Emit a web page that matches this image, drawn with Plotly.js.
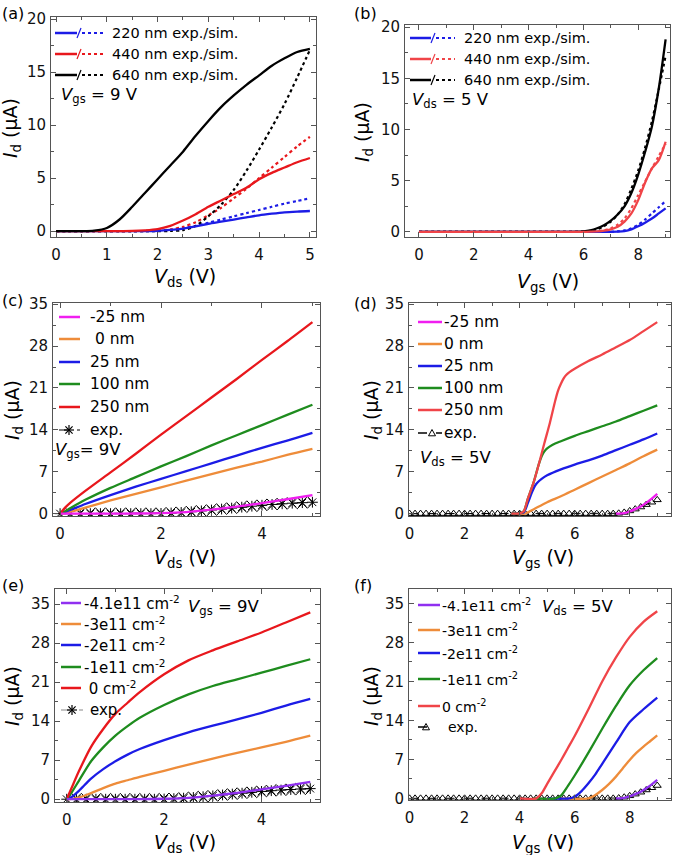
<!DOCTYPE html>
<html>
<head>
<meta charset="utf-8">
<script src="https://cdn.plot.ly/plotly-3.0.1.min.js"></script>
<style>html,body{margin:0;padding:0;background:#fff;}#chart{width:673px;height:855px;}</style>
</head>
<body>
<div id="chart"></div>
<script>
// ---------------- DATA ----------------
// Panel (a): Id vs Vds, Vgs = 9 V
const a_x = [0, 0.25, 0.5, 0.75, 1.0, 1.25, 1.5, 1.75, 2.0, 2.25, 2.5, 2.75, 3.0, 3.25, 3.5, 3.75, 4.0, 4.25, 4.5, 4.75, 5.0];
const a220_exp = [0, 0, 0, 0, 0, 0, 0, 0, 0.03, 0.12, 0.25, 0.45, 0.7, 0.9, 1.1, 1.3, 1.5, 1.65, 1.78, 1.85, 1.9];
const a440_exp = [0, 0, 0, 0, 0, 0, 0.02, 0.08, 0.2, 0.5, 1.0, 1.6, 2.3, 2.9, 3.5, 4.1, 4.9, 5.5, 6.0, 6.5, 6.9];
const a640_exp = [0, 0, 0, 0.05, 0.3, 1.1, 2.3, 3.6, 4.9, 6.2, 7.5, 9.0, 10.4, 11.7, 12.8, 13.8, 14.7, 15.6, 16.3, 16.9, 17.2];
const a220_sim = [0, 0, 0, 0, 0, 0, 0, 0, 0.03, 0.12, 0.28, 0.5, 0.8, 1.1, 1.4, 1.7, 2.0, 2.3, 2.6, 2.85, 3.1];
const a440_sim = [0, 0, 0, 0, 0, 0, 0, 0.02, 0.05, 0.15, 0.4, 0.85, 1.5, 2.2, 3.1, 4.0, 5.0, 6.0, 7.0, 8.0, 8.9];
const a640_sim = [0, 0, 0, 0, 0, 0, 0, 0, 0, 0.02, 0.1, 0.5, 1.4, 2.5, 3.9, 5.7, 7.7, 9.8, 12.0, 14.5, 17.1];

// Panel (b): Id vs Vgs, Vds = 5 V
const b_x = [0, 1, 2, 3, 4, 5, 6, 6.25, 6.5, 6.75, 7, 7.25, 7.5, 7.75, 8, 8.25, 8.5, 8.75, 9];
const b220_exp = [0, 0, 0, 0, 0, 0, 0, 0, 0, 0, 0, 0.02, 0.08, 0.25, 0.55, 0.9, 1.3, 1.8, 2.3];
const b440_exp = [0, 0, 0, 0, 0, 0, 0, 0.02, 0.05, 0.12, 0.25, 0.5, 1.0, 1.8, 3.1, 4.8, 6.2, 7.0, 8.8];
const b640_exp = [0, 0, 0, 0, 0, 0, 0.05, 0.15, 0.35, 0.65, 1.1, 1.7, 2.5, 3.8, 5.6, 7.8, 10.3, 14.0, 18.8];
const b220_sim = [0, 0, 0, 0, 0, 0, 0, 0, 0, 0, 0, 0.05, 0.15, 0.35, 0.7, 1.2, 1.8, 2.4, 3.0];
const b440_sim = [0, 0, 0, 0, 0, 0, 0, 0, 0.05, 0.15, 0.35, 0.7, 1.3, 2.3, 3.6, 4.9, 6.2, 7.4, 8.6];
const b640_sim = [0, 0, 0, 0, 0, 0, 0.03, 0.1, 0.25, 0.55, 1.0, 1.7, 2.7, 4.2, 6.0, 8.2, 10.8, 13.9, 17.2];

// Panel (c): Id vs Vds for gate offsets, Vgs = 9 V
const c_x = [0, 0.1, 0.2, 0.5, 1, 1.5, 2, 2.5, 3, 3.5, 4, 4.5, 5];
const c_m25 = [0, 0, 0, 0, 0, 0.02, 0.08, 0.25, 0.65, 1.15, 1.75, 2.4, 3.1];
const c_0 = [0, 0.1, 0.3, 1.0, 2.2, 3.3, 4.4, 5.5, 6.6, 7.7, 8.7, 9.8, 10.8];
const c_25 = [0, 0.3, 0.6, 1.6, 3.1, 4.5, 5.8, 7.1, 8.4, 9.7, 11.0, 12.2, 13.5];
const c_100 = [0, 0.4, 0.9, 2.3, 4.3, 6.1, 7.9, 9.6, 11.4, 13.1, 14.8, 16.5, 18.2];
const c_250 = [0, 1.0, 1.8, 3.8, 6.9, 10.0, 13.2, 16.3, 19.4, 22.5, 25.7, 28.8, 32.0];

// Experimental output curve (c, e), Vgs = 9 V
const ce_exp_x = [0, 0.1, 0.2, 0.3, 0.4, 0.5, 0.6, 0.7, 0.8, 0.9, 1.0, 1.1, 1.2, 1.3, 1.4, 1.5, 1.6, 1.7, 1.8, 1.9,
  2.0, 2.1, 2.2, 2.3, 2.4, 2.5, 2.6, 2.7, 2.8, 2.9, 3.0, 3.1, 3.2, 3.3, 3.4, 3.5, 3.6, 3.7, 3.8, 3.9,
  4.0, 4.1, 4.2, 4.3, 4.4, 4.5, 4.6, 4.7, 4.8, 4.9, 5.0];
const ce_exp_y = [0, 0, 0, 0, 0, 0, 0, 0, 0, 0, 0, 0, 0, 0, 0, 0, 0, 0, 0, 0,
  0.03, 0.06, 0.1, 0.14, 0.19, 0.25, 0.31, 0.38, 0.45, 0.52, 0.6, 0.68, 0.76, 0.84, 0.92, 1.0, 1.08, 1.16, 1.24, 1.32,
  1.4, 1.47, 1.53, 1.59, 1.64, 1.7, 1.74, 1.79, 1.83, 1.87, 1.9];

// Panel (d): Id vs Vgs for gate offsets, Vds = 5 V
const d250_x = [3.7, 4.0, 4.15, 4.3, 4.5, 4.7, 4.9, 5.1, 5.3, 5.4, 5.5, 5.6, 5.7, 5.8, 6.0, 6.5, 7.0, 7.5, 8.0, 8.5, 9.0];
const d250_y = [0, 0.05, 0.4, 2.5, 5.1, 8.3, 11.8, 15.2, 19.0, 20.6, 21.7, 22.6, 23.2, 23.6, 24.2, 25.5, 26.6, 27.8, 29.0, 30.5, 32.0];
const d100_x = [3.7, 4.0, 4.15, 4.3, 4.5, 4.7, 4.8, 4.9, 5.0, 5.2, 5.5, 6.0, 6.5, 7.0, 7.5, 8.0, 8.5, 9.0];
const d100_y = [0, 0.05, 0.4, 2.5, 5.1, 8.3, 9.6, 10.4, 10.9, 11.5, 12.1, 13.0, 13.8, 14.6, 15.4, 16.3, 17.2, 18.1];
const d25_x = [3.7, 4.0, 4.15, 4.3, 4.45, 4.55, 4.65, 4.8, 5.0, 5.5, 6.0, 6.5, 7.0, 7.5, 8.0, 8.5, 9.0];
const d25_y = [0, 0.05, 0.2, 1.8, 3.6, 4.6, 5.2, 5.8, 6.4, 7.4, 8.2, 8.9, 9.7, 10.6, 11.5, 12.4, 13.4];
const d0_x = [3.7, 4.2, 4.5, 5.0, 5.5, 6.0, 6.5, 7.0, 7.5, 8.0, 8.5, 9.0];
const d0_y = [0, 0, 0.7, 1.9, 2.9, 4.0, 5.1, 6.2, 7.3, 8.4, 9.6, 10.7];
const dm25_x = [7.5, 7.8, 8.0, 8.2, 8.4, 8.6, 8.8, 9.0];
const dm25_y = [0, 0.1, 0.35, 0.75, 1.2, 1.8, 2.5, 3.3];

// Experimental transfer curve (d, f), Vds = 5 V
const df_exp_x = [0, 0.2, 0.4, 0.6, 0.8, 1.0, 1.2, 1.4, 1.6, 1.8, 2.0, 2.2, 2.4, 2.6, 2.8, 3.0, 3.2, 3.4, 3.6, 3.8,
  4.0, 4.2, 4.4, 4.6, 4.8, 5.0, 5.2, 5.4, 5.6, 5.8, 6.0, 6.2, 6.4, 6.6, 6.8, 7.0, 7.2, 7.4, 7.6, 7.8,
  8.0, 8.2, 8.4, 8.6, 8.8, 9.0];
const df_exp_y = [0, 0, 0, 0, 0, 0, 0, 0, 0, 0, 0, 0, 0, 0, 0, 0, 0, 0, 0, 0,
  0, 0, 0, 0, 0, 0, 0, 0, 0, 0, 0, 0, 0, 0, 0, 0, 0, 0, 0.05, 0.2,
  0.45, 0.75, 1.1, 1.5, 1.9, 2.3];

// Panel (e): Id vs Vds for interface charge, Vgs = 9 V
const e_x = [0, 0.1, 0.25, 0.5, 0.75, 1, 1.25, 1.5, 2, 2.5, 3, 3.5, 4, 4.5, 5];
const e_m41 = [0, 0, 0, 0, 0, 0, 0, 0, 0.08, 0.25, 0.65, 1.15, 1.75, 2.4, 3.1];
const e_m3 = [0, 0.05, 0.3, 1.1, 2.0, 2.8, 3.4, 4.0, 5.1, 6.2, 7.3, 8.3, 9.3, 10.3, 11.4];
const e_m2 = [0, 0.4, 1.5, 3.7, 5.4, 6.8, 8.0, 9.0, 10.6, 12.0, 13.2, 14.3, 15.5, 16.8, 18.0];
const e_m1 = [0, 1.2, 3.3, 6.8, 9.3, 11.4, 13.1, 14.6, 16.9, 18.8, 20.3, 21.5, 22.7, 23.9, 25.1];
const e_0 = [0, 2.0, 5.0, 9.4, 12.6, 15.3, 17.3, 19.2, 22.4, 24.9, 26.7, 28.3, 29.9, 31.7, 33.5];

// Panel (f): Id vs Vgs for interface charge, Vds = 5 V
const f0_x = [4.0, 4.6, 4.8, 5.0, 5.25, 5.5, 5.75, 6.0, 6.5, 7.0, 7.5, 8.0, 8.5, 9.0];
const f0_y = [0, 0, 0.9, 2.6, 4.7, 6.8, 9.0, 11.2, 16.0, 21.0, 25.3, 29.0, 31.7, 33.6];
const fm1_x = [4.5, 5.3, 5.5, 5.75, 6.0, 6.5, 7.0, 7.5, 8.0, 8.5, 9.0];
const fm1_y = [0, 0, 0.5, 2.2, 4.1, 8.2, 12.5, 16.6, 20.3, 23.0, 25.2];
const fm2_x = [5.0, 5.8, 6.0, 6.25, 6.5, 6.75, 7.0, 7.5, 8.0, 8.5, 9.0];
const fm2_y = [0, 0, 0.3, 1.3, 2.7, 4.3, 6.2, 10.0, 13.7, 16.0, 18.1];
const fm3_x = [5.5, 6.5, 6.75, 7.0, 7.25, 7.5, 7.75, 8.0, 8.25, 8.5, 8.75, 9.0];
const fm3_y = [0, 0, 0.6, 1.5, 2.6, 3.9, 5.4, 6.9, 8.2, 9.3, 10.3, 11.3];
const fm41_x = [7.5, 7.8, 8.0, 8.2, 8.4, 8.6, 8.8, 9.0];
const fm41_y = [0, 0.1, 0.35, 0.75, 1.2, 1.8, 2.5, 3.3];

// Labels
const wireLabels = ['220 nm exp./sim.', '440 nm exp./sim.', '640 nm exp./sim.'];
const offsetLabels = ['-25 nm', '0 nm', '25 nm', '100 nm', '250 nm', 'exp.'];
const chargeLabels = ['-4.1e11 cm<sup>-2</sup>', '-3e11 cm<sup>-2</sup>', '-2e11 cm<sup>-2</sup>', '-1e11 cm<sup>-2</sup>', '0 cm<sup>-2</sup>', 'exp.'];

// ---------------- STYLE ----------------
const W = 673, H = 855;
const F = 'DejaVu Sans';
const fx = p => p / W;
const fy = p => 1 - p / H;
const BLUE = '#1c1ce6', RED = '#e8171c', BLACK = '#000000';
const RED2 = '#f04448', GREEN = '#1e8c1e', ORANGE = '#ee8c3a', MAGENTA = '#f01ef0', PURPLE = '#9030f0';
const AX = '#555';

function axis(dom, range, dtick, minor, anchor, isX) {
  return {
    domain: dom, range: range, dtick: dtick, tick0: 0, anchor: anchor,
    ticks: 'inside', ticklen: 5, tickwidth: 1, tickcolor: AX,
    showline: true, linecolor: AX, linewidth: 1, mirror: 'ticks',
    showgrid: false, zeroline: false, fixedrange: true,
    ticklabelstandoff: isX ? 4 : 1,
    tickfont: {family: F, size: 15, color: '#111'},
    minor: {ticks: 'inside', ticklen: 3, dtick: minor, tickcolor: AX, showgrid: false}
  };
}

const traces = [];
function line(x, y, color, xa, ya, opts) {
  const o = opts || {};
  traces.push({
    x: x, y: y, type: 'scatter', mode: 'lines', xaxis: xa, yaxis: ya, showlegend: false,
    line: {color: color, width: o.width || 2.3, dash: o.dash || 'solid', shape: 'spline', smoothing: 0.8},
    hoverinfo: 'skip'
  });
}
function expTrace(x, y, xa, ya, symbols, size) {
  traces.push({
    x: x, y: y, type: 'scatter', mode: 'lines+markers', xaxis: xa, yaxis: ya, showlegend: false,
    line: {color: '#000', width: 1, dash: 'dash'},
    marker: {symbol: symbols, size: size, color: '#000', line: {color: '#000', width: 1}},
    hoverinfo: 'skip'
  });
}

// (a)
line(a_x, a220_sim, BLUE, 'x', 'y', {dash: 'dot', width: 2.2});
line(a_x, a440_sim, RED, 'x', 'y', {dash: 'dot', width: 2.2});
line(a_x, a640_sim, BLACK, 'x', 'y', {dash: 'dot', width: 2.2});
line(a_x, a220_exp, BLUE, 'x', 'y');
line(a_x, a440_exp, RED, 'x', 'y');
line(a_x, a640_exp, BLACK, 'x', 'y');
// (b)
line(b_x, b220_sim, BLUE, 'x2', 'y2', {dash: 'dot', width: 2.2});
line(b_x, b440_sim, RED2, 'x2', 'y2', {dash: 'dot', width: 2.2});
line(b_x, b640_sim, BLACK, 'x2', 'y2', {dash: 'dot', width: 2.2});
line(b_x, b220_exp, BLUE, 'x2', 'y2');
line(b_x, b640_exp, BLACK, 'x2', 'y2');
line(b_x, b440_exp, RED2, 'x2', 'y2');
// (c)
const altSym = ce_exp_x.map((v, i) => i % 2 === 0 ? 'asterisk-open' : 'diamond-open');
expTrace(ce_exp_x, ce_exp_y, 'x3', 'y3', altSym, 9);
line(c_x, c_0, ORANGE, 'x3', 'y3');
line(c_x, c_25, BLUE, 'x3', 'y3');
line(c_x, c_100, GREEN, 'x3', 'y3');
line(c_x, c_250, RED, 'x3', 'y3');
line(c_x, c_m25, MAGENTA, 'x3', 'y3');
// (d)
expTrace(df_exp_x, df_exp_y, 'x4', 'y4', 'triangle-up-open', 7);
line(d0_x, d0_y, ORANGE, 'x4', 'y4');
line(d25_x, d25_y, BLUE, 'x4', 'y4');
line(d100_x, d100_y, GREEN, 'x4', 'y4');
line(d250_x, d250_y, RED2, 'x4', 'y4');
line(dm25_x, dm25_y, MAGENTA, 'x4', 'y4');
// (e)
expTrace(ce_exp_x, ce_exp_y, 'x5', 'y5', altSym, 9);
line(e_x, e_m3, ORANGE, 'x5', 'y5');
line(e_x, e_m2, BLUE, 'x5', 'y5');
line(e_x, e_m1, GREEN, 'x5', 'y5');
line(e_x, e_0, RED, 'x5', 'y5');
line(e_x, e_m41, PURPLE, 'x5', 'y5');
// (f)
expTrace(df_exp_x, df_exp_y, 'x6', 'y6', 'triangle-up-open', 7);
line(fm3_x, fm3_y, ORANGE, 'x6', 'y6');
line(fm2_x, fm2_y, BLUE, 'x6', 'y6');
line(fm1_x, fm1_y, GREEN, 'x6', 'y6');
line(f0_x, f0_y, RED2, 'x6', 'y6');
line(fm41_x, fm41_y, PURPLE, 'x6', 'y6');

// ---------------- ANNOTATIONS / LEGENDS ----------------
const annotations = [];
const shapes = [];
function txt(t, x, y, size, o) {
  o = o || {};
  annotations.push(Object.assign({
    text: t, x: fx(x), y: fy(y), xref: 'paper', yref: 'paper', showarrow: false,
    xanchor: 'left', yanchor: 'middle', font: {family: F, size: size, color: '#000'}
  }, o));
}
function seg(x0, y0, x1, y1, color, width, dash) {
  shapes.push({type: 'line', xref: 'paper', yref: 'paper', x0: fx(x0), y0: fy(y0), x1: fx(x1), y1: fy(y1),
    line: {color: color, width: width, dash: dash || 'solid'}});
}
function star(cx, cy, r, color) {
  seg(cx - r, cy, cx + r, cy, color, 1.2);
  seg(cx, cy - r, cx, cy + r, color, 1.2);
  seg(cx - r * 0.72, cy - r * 0.72, cx + r * 0.72, cy + r * 0.72, color, 1.2);
  seg(cx - r * 0.72, cy + r * 0.72, cx + r * 0.72, cy - r * 0.72, color, 1.2);
}
function tri(cx, cy, r) {
  shapes.push({type: 'path', xref: 'paper', yref: 'paper',
    path: 'M' + fx(cx) + ',' + fy(cy - r) + ' L' + fx(cx + r) + ',' + fy(cy + r * 0.8) + ' L' + fx(cx - r) + ',' + fy(cy + r * 0.8) + ' Z',
    line: {color: '#000', width: 1}, fillcolor: 'rgba(0,0,0,0)'});
}

// Panel labels
txt('(a)', 0, 13, 16); txt('(b)', 352, 13, 16);
txt('(c)', 0, 300, 16); txt('(d)', 352, 303, 16);
txt('(e)', 0, 585, 16); txt('(f)', 352, 585, 16);

// Condition texts
txt('<i>V</i><sub>gs</sub> = 9 V', 59, 95, 16.5);
txt('<i>V</i><sub>ds</sub> = 5 V', 410, 100, 16.5);
txt('<i>V</i><sub>gs</sub>= 9V', 53, 450, 16.5);
txt('<i>V</i><sub>ds</sub> = 5V', 418, 458, 16.5);
txt('<i>V</i><sub>gs</sub> = 9V', 186, 607, 16.5);
txt('<i>V</i><sub>ds</sub> = 5V', 540, 607, 16.5);

// Axis titles
const xT = ['<i>V</i><sub>ds</sub> (V)', '<i>V</i><sub>gs</sub> (V)'];
const yT = '<i>I</i><sub>d</sub> (μA)';
txt(xT[0], 185, 277, 19, {xanchor: 'center'});
txt(xT[1], 548, 282, 19, {xanchor: 'center'});
txt(xT[0], 185, 558, 19, {xanchor: 'center'});
txt(xT[1], 543, 558, 19, {xanchor: 'center'});
txt(xT[0], 185, 843, 19, {xanchor: 'center'});
txt(xT[1], 543, 843, 19, {xanchor: 'center'});
txt(yT, 12, 128, 19, {xanchor: 'center', textangle: -90});
txt(yT, 363, 132, 19, {xanchor: 'center', textangle: -90});
txt(yT, 13, 410, 19, {xanchor: 'center', textangle: -90});
txt(yT, 372, 410, 19, {xanchor: 'center', textangle: -90});
txt(yT, 13, 696, 19, {xanchor: 'center', textangle: -90});
txt(yT, 372, 696, 19, {xanchor: 'center', textangle: -90});

// Legend (a)
[BLUE, RED, BLACK].forEach((c, i) => {
  const y = [33, 54, 75][i];
  seg(55, y, 77, y, c, 2.5);
  seg(77, y + 5, 81, y - 5, c, 1.2);
  seg(82, y, 103, y, c, 2.2, 'dot');
  txt(wireLabels[i], 110, y, 14.5);
});
// Legend (b)
[BLUE, RED2, BLACK].forEach((c, i) => {
  const y = [38, 59, 80][i];
  seg(410, y, 431, y, c, 2.5);
  seg(431, y + 5, 435, y - 5, c, 1.2);
  seg(436, y, 455, y, c, 2.2, 'dot');
  txt(wireLabels[i], 462, y, 14.5);
});
// Legend (c)
[MAGENTA, ORANGE, BLUE, GREEN, RED].forEach((c, i) => {
  const y = [317, 339, 362, 384, 407][i];
  seg(59, y, 80, y, c, 2.5);
  txt((i === 1 ? ' ' : '') + offsetLabels[i], 88, y, 15.5);
});
seg(59, 430, 80, 430, '#000', 1.2, 'dash'); star(69, 430, 5, '#000');
txt(offsetLabels[5], 88, 430, 15.5);
// Legend (d)
[MAGENTA, ORANGE, BLUE, GREEN, RED2].forEach((c, i) => {
  const y = [322, 344, 366, 388, 410][i];
  seg(418, y, 442, y, c, 2.5);
  txt(offsetLabels[i], 442, y, 15.5);
});
seg(418, 433, 442, 433, '#000', 1.5, 'dash'); tri(432, 433, 3.5);
txt(offsetLabels[5], 442, 433, 15.5);
// Legend (e)
[PURPLE, ORANGE, BLUE, GREEN, RED].forEach((c, i) => {
  const y = [603, 624, 645, 667, 688][i];
  seg(61, y, 81, y, c, 2.5);
  txt((i === 4 ? ' ' : '') + chargeLabels[i], 82, y, 15);
});
seg(61, 710, 83, 710, '#888', 1.2, 'dash'); star(72, 710, 5, '#000');
txt(chargeLabels[5], 88, 710, 15);
// Legend (f)
[PURPLE, ORANGE, BLUE, GREEN, RED2].forEach((c, i) => {
  const y = [605, 630, 653, 679, 706][i];
  seg(418, y, 440, y, c, 2.5);
  txt(chargeLabels[i], 440, y, 14);
});
seg(418, 727, 432, 727, '#000', 1.5, 'dash'); tri(426, 727, 3.5);
txt(chargeLabels[5], 446, 727, 14);

// ---------------- LAYOUT ----------------
const layout = {
  width: W, height: H, margin: {l: 0, r: 0, t: 0, b: 0},
  paper_bgcolor: '#fff', plot_bgcolor: '#fff', showlegend: false,
  font: {family: F, size: 15, color: '#000'},
  xaxis: axis([fx(51), fx(316)], [-0.1, 5.12], 1, 0.5, 'y', true),
  yaxis: axis([fy(237), fy(17)], [-0.55, 20.2], 5, 2.5, 'x'),
  xaxis2: axis([fx(405), fx(670)], [-0.51, 9.16], 2, 1, 'y2', true),
  yaxis2: axis([fy(237), fy(25)], [-0.5, 20.2], 5, 2.5, 'x2'),
  xaxis3: axis([fx(53), fx(320)], [-0.14, 5.15], 2, 1, 'y3', true),
  yaxis3: axis([fy(516), fy(303)], [-0.4, 35.2], 7, 3.5, 'x3'),
  xaxis4: axis([fx(409), fx(671)], [-0.02, 9.5], 2, 1, 'y4', true),
  yaxis4: axis([fy(516), fy(303)], [-0.4, 35.2], 7, 3.5, 'x4'),
  xaxis5: axis([fx(55), fx(320)], [-0.24, 5.2], 2, 1, 'y5', true),
  yaxis5: axis([fy(802), fy(589)], [-0.5, 37.7], 7, 3.5, 'x5'),
  xaxis6: axis([fx(409), fx(671)], [-0.02, 9.5], 2, 1, 'y6', true),
  yaxis6: axis([fy(800), fy(589)], [-0.3, 37.6], 7, 3.5, 'x6'),
  annotations: annotations,
  shapes: shapes
};

Plotly.newPlot('chart', traces, layout, {displayModeBar: false});
</script>
</body>
</html>
